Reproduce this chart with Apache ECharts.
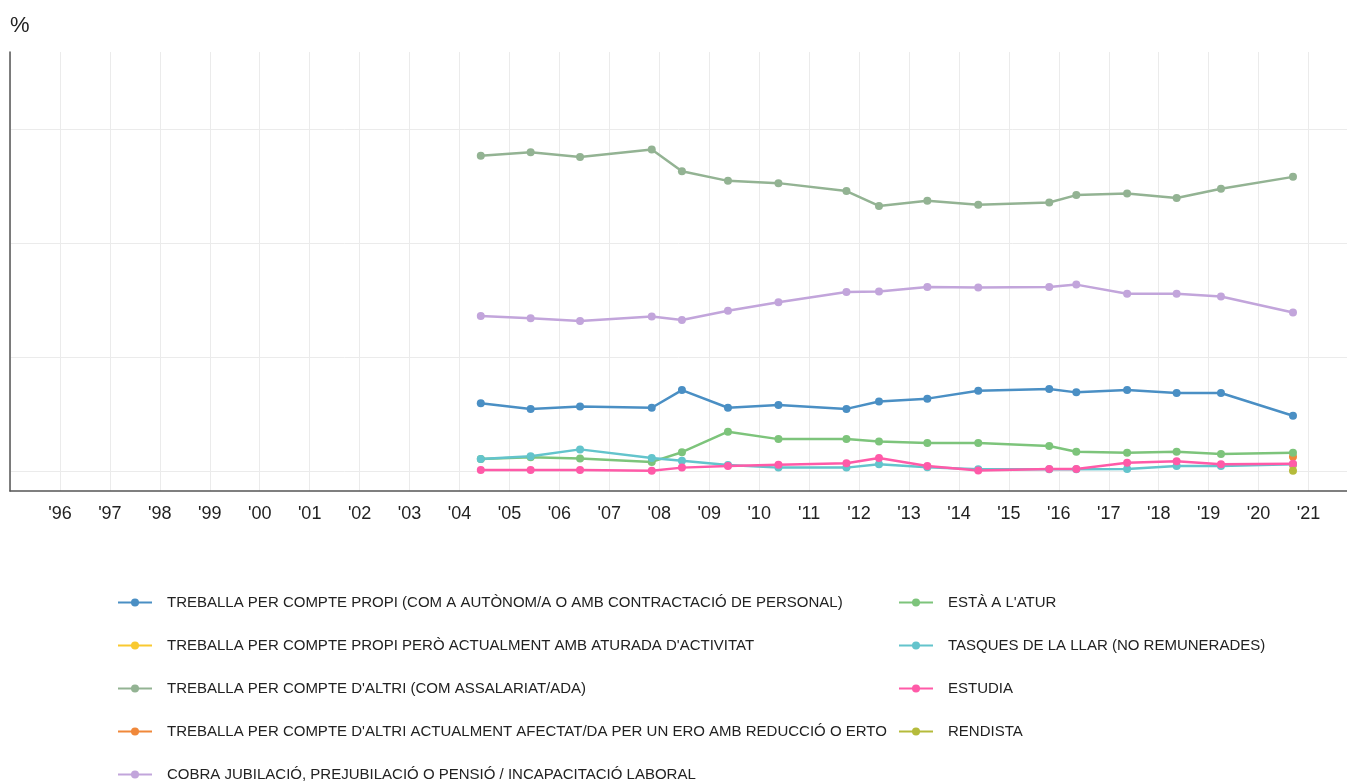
<!DOCTYPE html>
<html>
<head>
<meta charset="utf-8">
<script src="https://cdn.jsdelivr.net/npm/echarts@6/dist/echarts.min.js"></script>
<style>
html,body{margin:0;padding:0;background:#fff;}
#chart{width:1347px;height:782px;}
</style>
</head>
<body>
<div id="chart"></div>
<script>
// Survey dates (fieldwork)
const surveyDates = ['2004-06-05','2005-06-05','2006-06-01','2007-11-07','2008-06-15','2009-05-18','2010-05-22','2011-10-01','2012-05-26','2013-05-15','2014-05-22','2015-10-23','2016-05-08','2017-05-15','2018-05-12','2019-04-01','2020-09-09'];
const lastDate = ['2020-09-09'];

const seriesNames = [
  'TREBALLA PER COMPTE PROPI (COM A AUTÒNOM/A O AMB CONTRACTACIÓ DE PERSONAL)',
  'TREBALLA PER COMPTE PROPI PERÒ ACTUALMENT AMB ATURADA D\'ACTIVITAT',
  'TREBALLA PER COMPTE D\'ALTRI (COM ASSALARIAT/ADA)',
  'TREBALLA PER COMPTE D\'ALTRI ACTUALMENT AFECTAT/DA PER UN ERO AMB REDUCCIÓ O ERTO',
  'COBRA JUBILACIÓ, PREJUBILACIÓ O PENSIÓ / INCAPACITACIÓ LABORAL',
  'ESTÀ A L\'ATUR',
  'TASQUES DE LA LLAR (NO REMUNERADES)',
  'ESTUDIA',
  'RENDISTA'
];

const comptePropi   = [11.9, 10.9, 11.3, 11.1, 14.2, 11.1, 11.6, 10.9, 12.2, 12.7, 14.1, 14.4, 13.8, 14.2, 13.7, 13.7, 9.7];
const propiAturada  = [1.0];
const compteAltri   = [55.3, 55.9, 55.1, 56.4, 52.6, 50.9, 50.5, 49.1, 46.5, 47.4, 46.7, 47.1, 48.4, 48.7, 47.9, 49.5, 51.6];
const altriERO      = [2.5];
const jubilacio     = [27.2, 26.8, 26.3, 27.1, 26.5, 28.1, 29.6, 31.4, 31.5, 32.3, 32.2, 32.3, 32.7, 31.1, 31.1, 30.6, 27.8];
const atur          = [2.1, 2.4, 2.2, 1.6, 3.3, 6.9, 5.6, 5.6, 5.2, 4.9, 4.9, 4.4, 3.4, 3.2, 3.4, 3.0, 3.2];
const tasquesLlar   = [2.1, 2.6, 3.8, 2.3, 1.8, 1.05, 0.6, 0.6, 1.2, 0.65, 0.3, 0.3, 0.3, 0.35, 0.9, 0.9, 1.2];
const estudia       = [0.2, 0.2, 0.2, 0.05, 0.6, 0.9, 1.1, 1.35, 2.3, 0.9, 0.1, 0.35, 0.35, 1.45, 1.7, 1.2, 1.3];
const rendista      = [0.05];

const xTickYears = [1996,1997,1998,1999,2000,2001,2002,2003,2004,2005,2006,2007,2008,2009,2010,2011,2012,2013,2014,2015,2016,2017,2018,2019,2020,2021];

const colors = ['#4a8fc4','#f9c930','#93b393','#f0883a','#c2a5db','#7dc47b','#63c4cc','#ff5aa8','#b5bb3b'];

function decimalYear(s) {
  const d = new Date(s + 'T00:00:00Z');
  const y = d.getUTCFullYear();
  const a = Date.UTC(y, 0, 1), b = Date.UTC(y + 1, 0, 1);
  return y + (d.getTime() - a) / (b - a);
}
function pairs(dates, vals) { return vals.map((v, i) => [decimalYear(dates[i]), v]); }

const seriesData = [
  pairs(surveyDates, comptePropi),
  pairs(lastDate, propiAturada),
  pairs(surveyDates, compteAltri),
  pairs(lastDate, altriERO),
  pairs(surveyDates, jubilacio),
  pairs(surveyDates, atur),
  pairs(surveyDates, tasquesLlar),
  pairs(surveyDates, estudia),
  pairs(lastDate, rendista)
];

const chart = echarts.init(document.getElementById('chart'), null, {renderer: 'canvas'});
const font = 'Liberation Sans, Arial, sans-serif';

const legendCommon = {
  orient: 'vertical',
  top: 595,
  height: 220,
  padding: 0,
  itemWidth: 34,
  itemHeight: 10,
  itemGap: 28,
  textStyle: {fontFamily: font, fontSize: 15, color: '#222', padding: [0, 0, 0, 10]}
};

chart.setOption({
  animation: false,
  color: colors,
  title: {
    text: '%', left: 5, top: 10,
    textStyle: {fontFamily: font, fontSize: 22, fontWeight: 'normal', color: '#222'}
  },
  grid: {left: 10, right: 0, top: 52, bottom: 291, containLabel: false},
  legend: [
    Object.assign({}, legendCommon, {left: 117, data: seriesNames.slice(0, 5)}),
    Object.assign({}, legendCommon, {left: 898, data: seriesNames.slice(5)})
  ],
  xAxis: {
    type: 'value',
    min: 1995,
    max: 2021.77,
    interval: 1,
    axisLine: {show: true, onZero: false, lineStyle: {color: '#555', width: 1.5}},
    axisTick: {show: false},
    axisLabel: {
      showMinLabel: false, showMaxLabel: false,
      fontFamily: font, fontSize: 18, color: '#222', margin: 14,
      formatter: function (v) { return xTickYears.indexOf(v) >= 0 ? "'" + String(v).slice(2) : ''; }
    },
    splitLine: {show: true, lineStyle: {color: '#ebebeb', width: 1}}
  },
  yAxis: {
    type: 'value',
    min: -3.5,
    max: 73.5,
    splitNumber: 4,
    axisLine: {show: true, onZero: false, lineStyle: {color: '#555', width: 1.5}},
    axisTick: {show: false},
    axisLabel: {show: false},
    splitLine: {show: true, showMinLine: false, showMaxLine: false, lineStyle: {color: '#ebebeb', width: 1}}
  },
  series: seriesNames.map((name, i) => ({
    name: name,
    type: 'line',
    data: seriesData[i],
    symbol: 'circle',
    symbolSize: 8,
    showSymbol: true,
    lineStyle: {width: 2.5, color: colors[i]},
    itemStyle: {color: colors[i]}
  }))
});
</script>
</body>
</html>
